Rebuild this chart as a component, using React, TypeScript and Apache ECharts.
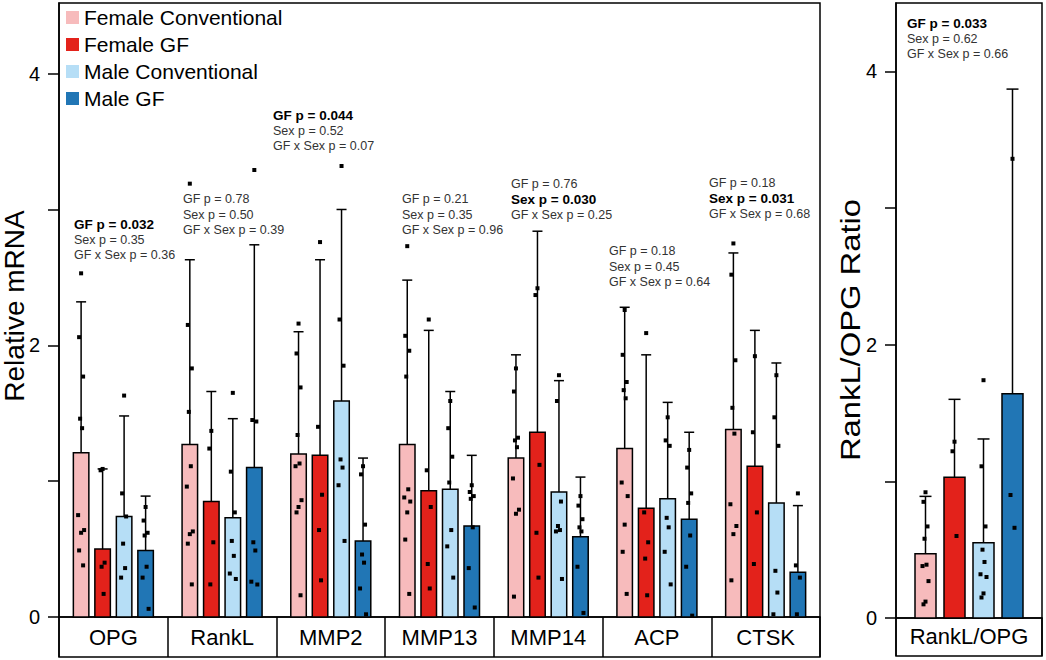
import React, { useEffect, useRef } from 'react';
import * as echarts from 'echarts';

// ---------- data ----------
const categories = ['OPG', 'RankL', 'MMP2', 'MMP13', 'MMP14', 'ACP', 'CTSK'];
const ratioCategories = ['RankL/OPG'];
const groups = ['Female Conventional', 'Female GF', 'Male Conventional', 'Male GF'];
const groupColors = ['#F7BBBC', '#E3221B', '#B6DEF6', '#2176B5'];

// means (bar heights)
const femaleConvMean = [1.21, 1.27, 1.2, 1.27, 1.17, 1.24, 1.38];
const femaleGFMean = [0.5, 0.85, 1.19, 0.93, 1.36, 0.8, 1.11];
const maleConvMean = [0.74, 0.73, 1.59, 0.94, 0.92, 0.87, 0.84];
const maleGFMean = [0.49, 1.1, 0.56, 0.67, 0.59, 0.72, 0.33];

// standard deviations (upper error bars)
const femaleConvSD = [1.11, 1.36, 0.9, 1.21, 0.76, 1.04, 1.3];
const femaleGFSD = [0.59, 0.81, 1.44, 1.18, 1.48, 1.13, 1.0];
const maleConvSD = [0.74, 0.73, 1.41, 0.72, 0.82, 0.71, 1.03];
const maleGFSD = [0.4, 1.64, 0.61, 0.52, 0.44, 0.64, 0.49];

// individual animals
const femaleConvPts = [
  [2.53, 2.06, 1.77, 1.46, 1.39, 0.75, 0.64, 0.62, 0.49, 0.38],
  [3.19, 2.15, 1.83, 1.51, 1.11, 0.96, 0.63, 0.61, 0.54, 0.24],
  [2.16, 1.94, 1.69, 1.34, 1.13, 1.11, 0.86, 0.81, 0.77, 0.16],
  [2.73, 2.07, 1.96, 1.77, 0.94, 0.88, 0.85, 0.77, 0.57, 0.17],
  [1.83, 1.66, 1.32, 1.3, 1.25, 1.02, 0.79, 0.76, 0.15],
  [2.26, 1.93, 1.73, 1.67, 1.61, 0.99, 0.89, 0.68, 0.48, 0.17],
  [2.75, 2.52, 1.89, 1.54, 1.35, 0.83, 0.67, 0.61, 0.27],
];
const femaleGFPts = [
  [1.09, 1.08, 0.4, 0.37, 0.17],
  [1.37, 1.24, 0.55, 0.24],
  [2.76, 1.4, 0.9, 0.64, 0.27],
  [2.19, 1.08, 0.81, 0.39, 0.21],
  [2.42, 2.37, 1.12, 0.62, 0.29],
  [2.09, 0.77, 0.55, 0.43, 0.16],
  [1.92, 1.36, 0.77, 0.39],
];
const maleConvPts = [
  [1.63, 0.91, 0.74, 0.54, 0.36, 0.29],
  [1.65, 1.07, 0.77, 0.56, 0.45, 0.32, 0.28],
  [3.32, 2.19, 1.85, 1.16, 1.1, 0.97, 0.56],
  [1.59, 1.39, 1.18, 0.99, 0.64, 0.52, 0.29],
  [1.78, 1.59, 0.85, 0.67, 0.64, 0.63, 0.28],
  [1.47, 1.3, 1.26, 0.73, 0.66, 0.48, 0.24],
  [1.78, 1.47, 1.26, 0.34, 0.18, 0.02],
];
const maleGFPts = [
  [0.81, 0.71, 0.62, 0.6, 0.37, 0.29, 0.06],
  [3.29, 1.45, 1.44, 0.55, 0.49, 0.26, 0.24],
  [1.11, 1.05, 0.68, 0.46, 0.4, 0.21, 0.02],
  [0.97, 0.92, 0.89, 0.87, 0.66, 0.36, 0.07],
  [0.89, 0.82, 0.72, 0.66, 0.63, 0.37, 0.03],
  [1.23, 1.1, 0.91, 0.84, 0.6, 0.37, 0.01],
  [0.91, 0.38, 0.29, 0.02],
];

// RankL/OPG ratio panel
const ratioMean = [0.47, 1.03, 0.55, 1.64];
const ratioSD = [0.42, 0.57, 0.76, 2.23];
const ratioPts = [
  [0.92, 0.85, 0.67, 0.58, 0.39, 0.38, 0.27, 0.12, 0.1],
  [1.29, 1.22, 0.6],
  [1.74, 1.11, 0.67, 0.5, 0.41, 0.32, 0.3, 0.18, 0.15],
  [3.36, 0.9, 0.66],
];

// statistics text
const gfP = ['0.032', '0.78', '0.044', '0.21', '0.76', '0.18', '0.18'];
const sexP = ['0.35', '0.50', '0.52', '0.35', '0.030', '0.45', '0.031'];
const gfSexP = ['0.36', '0.39', '0.07', '0.96', '0.25', '0.64', '0.68'];
const ratioGfP = '0.033';
const ratioSexP = '0.62';
const ratioGfSexP = '0.66';

const yTicks = [0, 1, 2, 3, 4];
const yLabels = [0, 2, 4];

// ---------- layout / style ----------
const FONT = '"Liberation Sans", Arial, Helvetica, sans-serif';
const L_BW = 15.5;
const L_GAP = 6;
const R_BW = 21;
const R_GAP = 8;
const JITTER = [0, -2, 2, -1, 1, -3, 3, 0, -2, 2];

const means = [femaleConvMean, femaleGFMean, maleConvMean, maleGFMean];
const sds = [femaleConvSD, femaleGFSD, maleConvSD, maleGFSD];
const pts = [femaleConvPts, femaleGFPts, maleConvPts, maleGFPts];

function offsets(bw: number, gap: number) {
  const total = 4 * bw + 3 * gap;
  return [0, 1, 2, 3].map((k) => -total / 2 + k * (bw + gap) + bw / 2);
}

// one custom series per group & panel: bar + upper SD whisker + individual points
function makeGroupSeries(
  name: string,
  color: string,
  axisIdx: number,
  off: number,
  bw: number,
  meanArr: number[],
  sdArr: number[],
  ptsArr: number[][],
  capHalf: number
) {
  return {
    type: 'custom',
    name,
    xAxisIndex: axisIdx,
    yAxisIndex: axisIdx,
    silent: true,
    itemStyle: { color },
    encode: { x: 0, y: 1 },
    data: meanArr.map((m, i) => [i, m, sdArr[i]]),
    renderItem: (params: any, api: any) => {
      const i = api.value(0) as number;
      const m = api.value(1) as number;
      const sd = api.value(2) as number;
      const zero = api.coord([i, 0]);
      const base = api.coord([i, m]);
      const x = base[0] + off;
      const yTop = api.coord([i, m + sd])[1];
      const children: any[] = [
        {
          type: 'rect',
          shape: { x: x - bw / 2, y: base[1], width: bw, height: zero[1] - base[1] },
          style: { fill: color, stroke: '#000', lineWidth: 1.5 },
        },
        { type: 'line', shape: { x1: x, y1: base[1], x2: x, y2: yTop }, style: { stroke: '#000', lineWidth: 1.5 } },
        { type: 'line', shape: { x1: x - capHalf, y1: yTop, x2: x + capHalf, y2: yTop }, style: { stroke: '#000', lineWidth: 1.5 } },
      ];
      (ptsArr[i] || []).forEach((v, k) => {
        const p = api.coord([i, v]);
        const dx = JITTER[k % JITTER.length];
        children.push({
          type: 'rect',
          shape: { x: x + dx - 2, y: p[1] - 2, width: 4, height: 4 },
          style: { fill: '#000' },
        });
      });
      return { type: 'group', children };
    },
  };
}

function statLines(gf: string, sex: string, inter: string) {
  return [
    { text: `GF p = ${gf}`, bold: parseFloat(gf) < 0.05 },
    { text: `Sex p = ${sex}`, bold: parseFloat(sex) < 0.05 },
    { text: `GF x Sex p = ${inter}`, bold: parseFloat(inter) < 0.05 },
  ];
}

// annotation anchor positions (pixels): left x, first-line centre y
const annotPos = [
  [74, 224],
  [183, 199],
  [273, 115],
  [402, 199],
  [511, 184],
  [609, 251],
  [709, 183],
];
const ratioAnnotPos = [907, 23];

function annotGraphics() {
  const els: any[] = [];
  const add = (x: number, y: number, lines: { text: string; bold: boolean }[]) => {
    lines.forEach((ln, k) => {
      els.push({
        type: 'text',
        x,
        y: y + k * 15.5,
        style: {
          text: ln.text,
          fontFamily: FONT,
          fontSize: ln.bold ? 13.5 : 12.5,
          fontWeight: ln.bold ? 'bold' : 'normal',
          fill: ln.bold ? '#000' : '#333',
          verticalAlign: 'middle',
          align: 'left',
        },
      });
    });
  };
  categories.forEach((_, i) => add(annotPos[i][0], annotPos[i][1], statLines(gfP[i], sexP[i], gfSexP[i])));
  add(ratioAnnotPos[0], ratioAnnotPos[1], statLines(ratioGfP, ratioSexP, ratioGfSexP));
  els.push({
    type: 'text',
    x: 14,
    y: 306,
    rotation: Math.PI / 2,
    style: { text: 'Relative mRNA', fontFamily: FONT, fontSize: 28, fill: '#000', align: 'center', verticalAlign: 'middle' },
  });
  els.push({
    type: 'text',
    x: 850,
    y: 330,
    rotation: Math.PI / 2,
    scaleX: 1.17,
    style: { text: 'RankL/OPG Ratio', fontFamily: FONT, fontSize: 28, fill: '#000', align: 'center', verticalAlign: 'middle' },
  });
  return els;
}

function buildOption(): any {
  const lOff = offsets(L_BW, L_GAP);
  const rOff = offsets(R_BW, R_GAP);
  const gridBase = { show: true, borderColor: '#000', borderWidth: 1.5, containLabel: false, outerBoundsMode: 'none' };
  const valueAxis = (gridIndex: number, max: number) => ({
    gridIndex,
    type: 'value',
    min: 0,
    max,
    interval: 1,
    axisLine: { show: true, lineStyle: { color: '#000', width: 1.5 } },
    splitLine: { show: false },
    axisTick: { show: true, length: 11, lineStyle: { color: '#000', width: 1.5 }, customValues: yTicks },
    axisLabel: {
      customValues: yLabels,
      fontSize: 20,
      color: '#000',
      fontFamily: FONT,
      margin: 19,
      formatter: (v: number) => (yLabels.indexOf(v) >= 0 ? String(v) : ''),
    },
  });
  const labelAxis = (gridIndex: number, data: string[]) => ({
    gridIndex,
    type: 'category',
    data,
    axisLine: { show: false },
    axisTick: { show: false },
    axisLabel: { inside: true, interval: 0, margin: 9, fontSize: 22, color: '#000', fontFamily: FONT },
    splitLine: { show: true, interval: 0, lineStyle: { color: '#000', width: 1.5 } },
  });

  const series: any[] = [];
  groups.forEach((name, g) => {
    series.push(makeGroupSeries(name, groupColors[g], 0, lOff[g], L_BW, means[g], sds[g], pts[g], 5));
    series.push(makeGroupSeries(name, groupColors[g], 2, rOff[g], R_BW, [ratioMean[g]], [ratioSD[g]], [ratioPts[g]], 6));
  });

  return {
    animation: false,
    backgroundColor: '#fff',
    grid: [
      { ...gridBase, left: 59, top: 3, width: 761, height: 614 },
      { ...gridBase, left: 59, top: 617, width: 761, height: 40 },
      { ...gridBase, left: 896, top: 3, width: 146, height: 615 },
      { ...gridBase, left: 896, top: 618, width: 146, height: 38 },
    ],
    xAxis: [
      { gridIndex: 0, type: 'category', data: categories, show: false },
      labelAxis(1, categories),
      { gridIndex: 2, type: 'category', data: ratioCategories, show: false },
      labelAxis(3, ratioCategories),
    ],
    yAxis: [
      valueAxis(0, 4.52),
      { gridIndex: 1, type: 'value', show: false },
      valueAxis(2, 4.5),
      { gridIndex: 3, type: 'value', show: false },
    ],
    legend: {
      data: groups.map((n, g) => ({ name: n, icon: 'rect', itemStyle: { color: groupColors[g], borderWidth: 0 } })),
      orient: 'vertical',
      left: 61,
      top: 2,
      itemWidth: 13,
      itemHeight: 13,
      itemGap: 6,
      selectedMode: false,
      textStyle: { fontSize: 21, color: '#000', fontFamily: FONT },
    },
    graphic: annotGraphics(),
    series,
  };
}

export default function App() {
  const ref = useRef<HTMLDivElement>(null);
  useEffect(() => {
    const chart = echarts.init(ref.current as HTMLDivElement, null, { renderer: 'svg' });
    chart.setOption(buildOption());
    return () => chart.dispose();
  }, []);
  return <div ref={ref} style={{ position: 'fixed', left: 0, top: 0, width: 1046, height: 660 }} />;
}
